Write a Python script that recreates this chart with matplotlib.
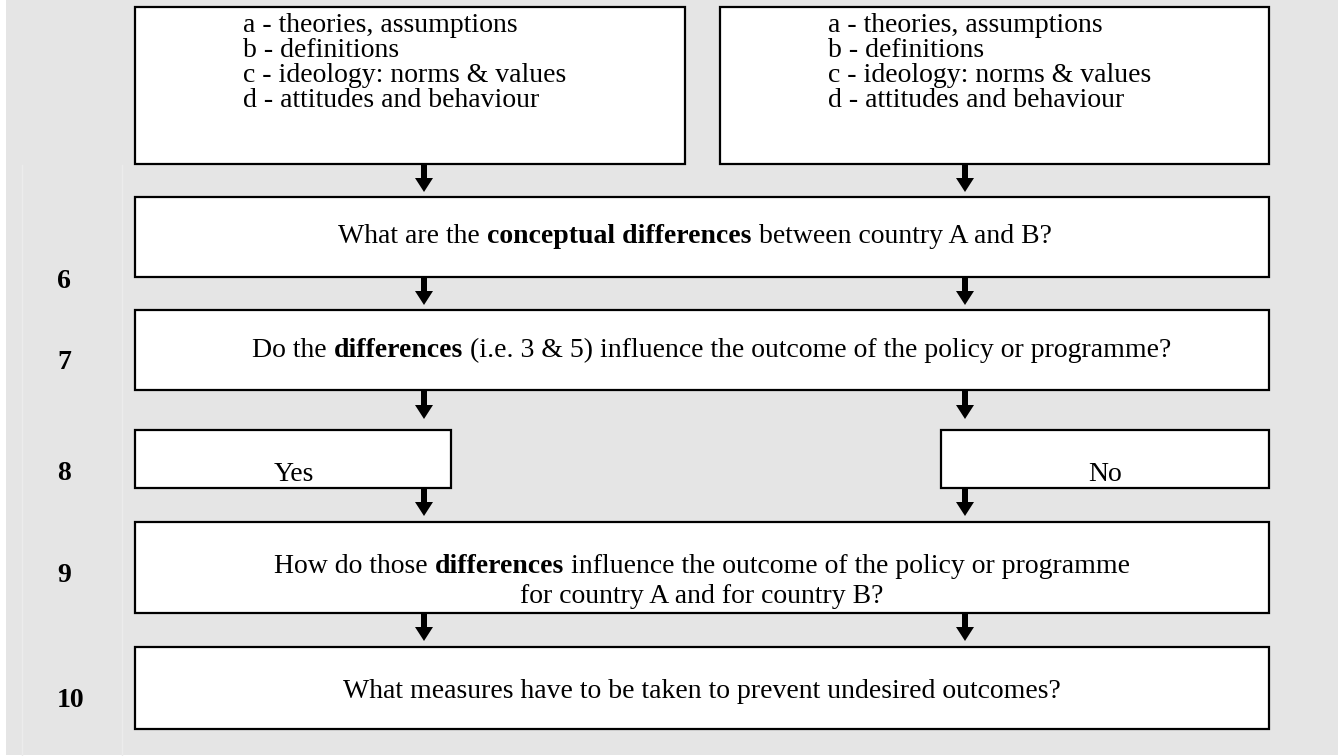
import matplotlib
matplotlib.use("Agg")
import matplotlib.pyplot as plt
from matplotlib.patches import Rectangle, FancyArrow

plt.rcParams['font.family'] = ['Liberation Serif', 'DejaVu Serif']

# --- content -------------------------------------------------------------
top_items = ["a - theories, assumptions", "b - definitions",
             "c - ideology: norms & values", "d - attitudes and behaviour"]
step_numbers = ["6", "7", "8", "9", "10"]
q6 = [("What are the ", False), ("conceptual differences", True),
      (" between country A and B?", False)]
q7 = [("Do the ", False), ("differences", True),
      (" (i.e. 3 & 5) influence the outcome of the policy or programme?", False)]
q9_line1 = [("How do those ", False), ("differences", True),
            (" influence the outcome of the policy or programme", False)]
q9_line2 = [("for country A and for country B?", False)]
q10 = [("What measures have to be taken to prevent undesired outcomes?", False)]
answers = ["Yes", "No"]

# --- layout (pixel units, y downwards) -----------------------------------
W, H = 1343, 756
FS = 20
BG = '#e5e5e5'
boxes = {
    'top_l': (135, 7, 685, 164),
    'top_r': (720, 7, 1269, 164),
    'q6': (135, 197, 1269, 277),
    'q7': (135, 310, 1269, 390),
    'yes': (135, 430, 451, 488),
    'no': (941, 430, 1269, 488),
    'q9': (135, 522, 1269, 613),
    'q10': (135, 647, 1269, 729),
}
arrow_x = [424, 965]
arrow_spans = [(165, 192), (278, 305), (391, 419), (489, 516), (614, 641)]
number_baselines = [288, 369, 480, 582, 707]

fig = plt.figure(figsize=(W / 100, H / 100), dpi=100)
ax = fig.add_axes([0, 0, 1, 1])
ax.set_xlim(0, W)
ax.set_ylim(H, 0)
ax.axis('off')

ax.add_patch(Rectangle((6, 0), 1332, 755, facecolor=BG, edgecolor='none', zorder=0))
# faint table cell borders in the left column
for gx in (22, 122):
    ax.plot([gx, gx], [165, 755], color='#ececec', lw=1, zorder=0.5)

for x0, y0, x1, y1 in boxes.values():
    ax.add_patch(Rectangle((x0, y0), x1 - x0, y1 - y0, facecolor='white',
                           edgecolor='black', lw=1.6, zorder=2))

for ax_x in arrow_x:
    for y0, y1 in arrow_spans:
        ax.add_patch(FancyArrow(ax_x, y0, 0, y1 - y0, width=6,
                                head_width=18, head_length=14,
                                length_includes_head=True, color='black',
                                lw=0, zorder=3))

renderer = fig.canvas.get_renderer()


def text_width(s, bold):
    t = ax.text(0, 0, s, fontsize=FS, fontweight='bold' if bold else 'normal')
    w = t.get_window_extent(renderer).width
    t.remove()
    return w


SPACE = text_width("a a", False) - text_width("aa", False)


def rich_line(xc, y, parts):
    pieces = []
    total = 0
    for s, bold in parts:
        core = s.strip()
        lead = len(s) - len(s.lstrip(' '))
        trail = len(s) - len(s.rstrip(' '))
        w = text_width(core, bold)
        pieces.append((core, bold, total + lead * SPACE))
        total += lead * SPACE + w + trail * SPACE
    x = xc - total / 2
    for core, bold, off in pieces:
        ax.text(x + off, y, core, fontsize=FS, va='baseline', ha='left',
                fontweight='bold' if bold else 'normal', zorder=4)


for i, item in enumerate(top_items):
    yb = 32 + i * 25
    ax.text(243, yb, item, fontsize=FS, va='baseline', zorder=4)
    ax.text(828, yb, item, fontsize=FS, va='baseline', zorder=4)

rich_line(695, 243, q6)
rich_line(712, 357, q7)
rich_line(702, 573, q9_line1)
rich_line(702, 603, q9_line2)
rich_line(702, 698, q10)

ax.text(294, 481, answers[0], fontsize=FS, ha='center', va='baseline', zorder=4)
ax.text(1105, 481, answers[1], fontsize=FS, ha='center', va='baseline', zorder=4)

for num, yb in zip(step_numbers, number_baselines):
    ax.text(57, yb, num, fontsize=FS, fontweight='bold', va='baseline', zorder=4)

fig.savefig('out.png', dpi=100)
